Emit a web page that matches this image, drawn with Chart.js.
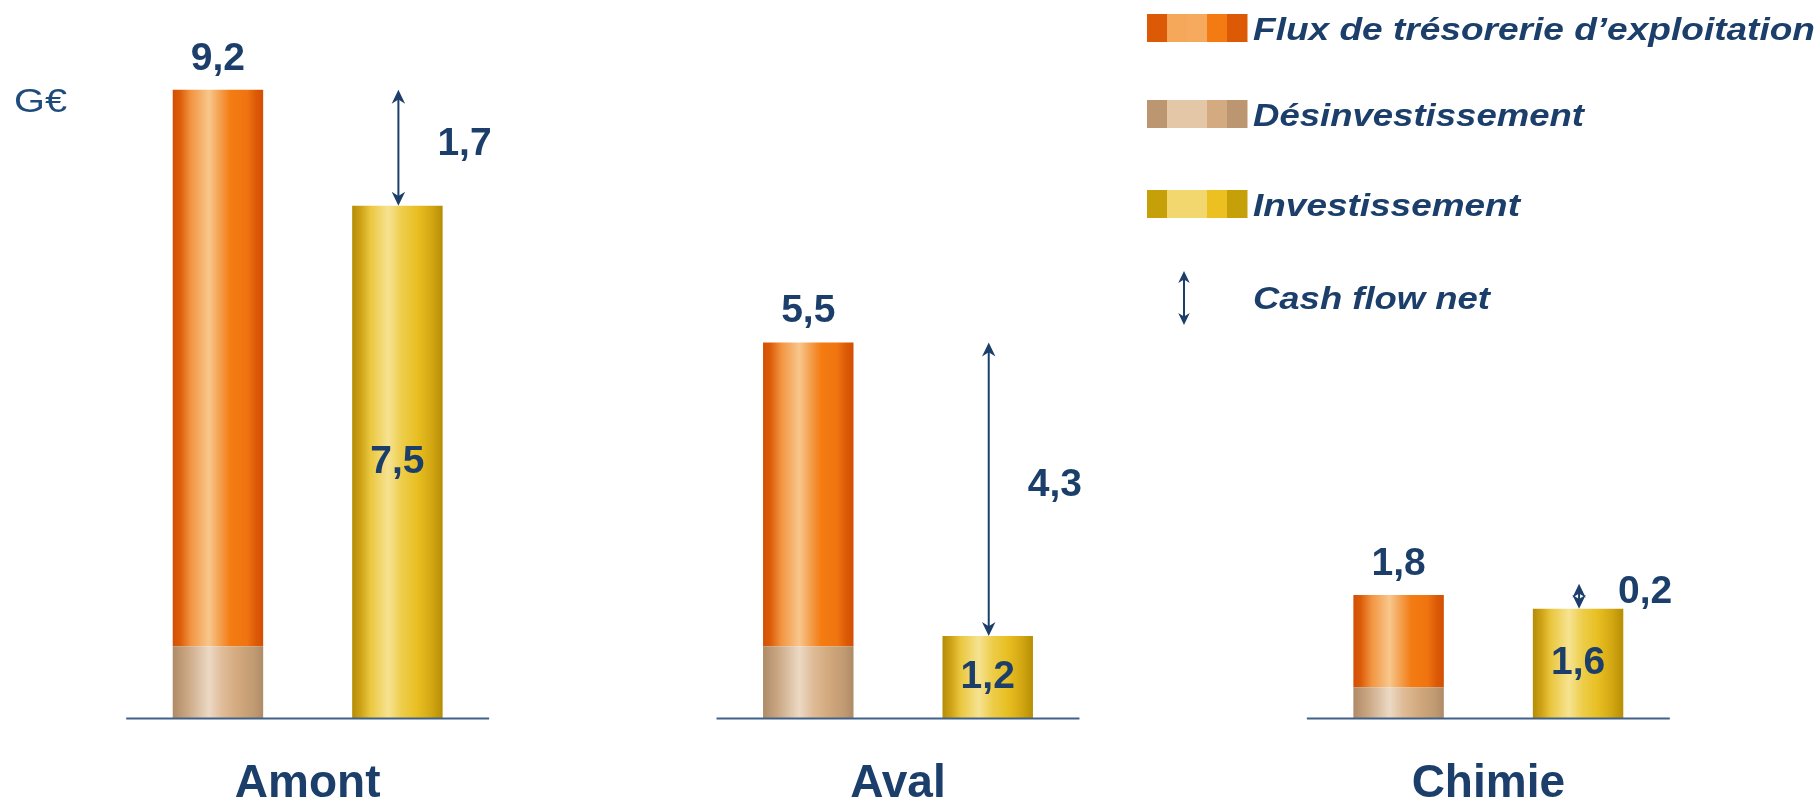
<!DOCTYPE html>
<html>
<head>
<meta charset="utf-8">
<script src="https://cdn.jsdelivr.net/npm/chart.js@4.4.0/dist/chart.umd.min.js"></script>
<style>
  html, body { margin: 0; padding: 0; background: #ffffff; }
  #wrap { width: 1820px; height: 803px; position: relative; }
</style>
</head>
<body>
<div id="wrap"><canvas id="c" width="1820" height="803"></canvas></div>
<script>
// ---- Data ----
const categories = ['Amont', 'Aval', 'Chimie'];
const desinvestissement = [1.05, 1.05, 0.45];
const fluxExploitation = [8.15, 4.45, 1.35];
const investissement = [7.5, 1.2, 1.6];
const cashFlowNet = [1.7, 4.3, 0.2];
const legendLabels = ['Flux de trésorerie d\u2019exploitation', 'Désinvestissement', 'Investissement', 'Cash flow net'];
const unitLabel = 'G€';

// ---- Styling ----
const NAVY = '#1b3f6a';
const CP = 0.608, BP = 0.504;
const FONT = '"Liberation Sans", Arial, sans-serif';

const orangeStops = [[0,'#d24f06'],[0.08,'#dc5c08'],[0.2,'#f29440'],[0.4,'#f8c78c'],[0.52,'#f4a050'],[0.64,'#f47c12'],[0.82,'#f07410'],[0.92,'#dc5a06'],[1,'#d24f04']];
const tanStops = [[0,'#ae8a66'],[0.15,'#c8a480'],[0.4,'#ecd9c4'],[0.55,'#dfbc98'],[0.72,'#d3a97e'],[0.9,'#c09a72'],[1,'#ae8a66']];
const yellowStops = [[0,'#b48c06'],[0.1,'#d0a418'],[0.2,'#eac73e'],[0.4,'#f6e392'],[0.55,'#edcd4a'],[0.72,'#e8bf22'],[0.88,'#d2a612'],[1,'#b68e04']];

function fmt(v) { return v.toFixed(1).replace('.', ','); }

function barGradient(stops, stackIdx) {
  return function (ctx) {
    const chart = ctx.chart;
    const xs = chart.scales.x;
    if (ctx.type !== 'data' || !xs || xs.right === undefined) return stops[3][1];
    const catW = (xs.right - xs.left) / categories.length;
    const center = xs.getPixelForValue(ctx.dataIndex);
    const slot = catW * CP / 2;
    const cx = center + (stackIdx - 0.5) * slot;
    const w = slot * BP;
    const g = chart.ctx.createLinearGradient(cx - w / 2, 0, cx + w / 2, 0);
    stops.forEach(s => g.addColorStop(s[0], s[1]));
    return g;
  };
}

function drawHead(ctx, x, tipY, dir, size) {
  const h = size, w = size * 0.48, notch = size * 0.7;
  ctx.beginPath();
  ctx.moveTo(x, tipY);
  ctx.lineTo(x - w, tipY - dir * h);
  ctx.lineTo(x, tipY - dir * notch);
  ctx.lineTo(x + w, tipY - dir * h);
  ctx.closePath();
  ctx.fill();
}

function drawDoubleArrow(ctx, x, yTop, yBot, size) {
  ctx.save();
  ctx.strokeStyle = NAVY;
  ctx.fillStyle = NAVY;
  ctx.lineWidth = 2;
  ctx.beginPath();
  ctx.moveTo(x, yTop + size * 0.6);
  ctx.lineTo(x, yBot - size * 0.6);
  ctx.stroke();
  drawHead(ctx, x, yTop, -1, size);
  drawHead(ctx, x, yBot, 1, size);
  ctx.restore();
}

function drawFitText(ctx, text, x, y, targetW) {
  const m = ctx.measureText(text).width;
  ctx.save();
  ctx.translate(x, y);
  ctx.scale(targetW / m, 1);
  ctx.fillText(text, 0, 0);
  ctx.restore();
}

const overlayPlugin = {
  id: 'overlay',
  afterDatasetsDraw(chart) {
    const ctx = chart.ctx;
    const xs = chart.scales.x, ys = chart.scales.y;
    const catW = (xs.right - xs.left) / categories.length;
    const slot = catW * CP / 2;
    const base = ys.getPixelForValue(0);
    ctx.save();
    ctx.strokeStyle = '#40628a';
    ctx.lineWidth = 2;
    categories.forEach((c, i) => {
      const cx = xs.getPixelForValue(i);
      ctx.beginPath();
      ctx.moveTo(cx - slot - 2, base + 0.5);
      ctx.lineTo(cx + slot + 2, base + 0.5);
      ctx.stroke();
    });
    ctx.textBaseline = 'middle';
    categories.forEach((c, i) => {
      const cx = xs.getPixelForValue(i);
      const fx = cx - slot / 2, ix = cx + slot / 2;
      const total = desinvestissement[i] + fluxExploitation[i];
      const yTotal = ys.getPixelForValue(total);
      const yInv = ys.getPixelForValue(investissement[i]);
      ctx.fillStyle = NAVY;
      ctx.font = 'bold 39px ' + FONT;
      ctx.textAlign = 'center';
      ctx.fillText(fmt(total), fx, yTotal - 31);
      ctx.fillText(fmt(investissement[i]), ix, (yInv + base) / 2);
      const top = Math.min(yTotal, yInv - 25);
      drawDoubleArrow(ctx, ix + 1, top, yInv, 14);
      ctx.fillStyle = NAVY;
      ctx.font = 'bold 39px ' + FONT;
      ctx.textAlign = 'left';
      ctx.fillText(fmt(cashFlowNet[i]), ix + 40, (top + yInv) / 2 - 4);
      ctx.font = 'bold 46px ' + FONT;
      ctx.textAlign = 'center';
      ctx.fillText(c, cx, 784);
    });
    ctx.restore();
  },
  afterDraw(chart) {
    const ctx = chart.ctx;
    ctx.save();
    ctx.fillStyle = '#1f4b7c';
    ctx.font = '34px ' + FONT;
    ctx.textAlign = 'left';
    ctx.textBaseline = 'alphabetic';
    drawFitText(ctx, unitLabel, 14, 112, 53);
    const swatches = [
      ['#dc5a05', '#f5a75a', '#f5aa5e', '#f47b12', '#dc5a05'],
      ['#bc9670', '#e3c7a6', '#e3c7a6', '#d4ab80', '#bc9670'],
      ['#c6a008', '#f2d66e', '#f2d66e', '#ebc020', '#c6a008']
    ];
    const centers = [28, 114, 204];
    const widths = [562, 331, 267];
    swatches.forEach((cols, k) => {
      const y0 = centers[k] - 14;
      cols.forEach((col, j) => {
        ctx.fillStyle = col;
        ctx.fillRect(1147 + j * 20, y0, 20.5, 28);
      });
      ctx.fillStyle = NAVY;
      ctx.font = 'italic bold 32px ' + FONT;
      drawFitText(ctx, legendLabels[k], 1253, centers[k] + 11.5, widths[k]);
    });
    drawDoubleArrow(ctx, 1184, 271, 325, 12);
    ctx.fillStyle = NAVY;
    ctx.font = 'italic bold 32px ' + FONT;
    drawFitText(ctx, legendLabels[3], 1253, 308.5, 237);
    ctx.restore();
  }
};

new Chart(document.getElementById('c'), {
  type: 'bar',
  data: {
    labels: categories,
    datasets: [
      { label: legendLabels[1], data: desinvestissement, stack: 'a', backgroundColor: barGradient(tanStops, 0), borderWidth: 0 },
      { label: legendLabels[0], data: fluxExploitation, stack: 'a', backgroundColor: barGradient(orangeStops, 0), borderWidth: 0 },
      { label: legendLabels[2], data: investissement, stack: 'b', backgroundColor: barGradient(yellowStops, 1), borderWidth: 0 }
    ]
  },
  options: {
    responsive: false,
    animation: false,
    categoryPercentage: CP,
    barPercentage: BP,
    layout: { padding: { left: 12.5, right: 36.5, top: 1, bottom: 85 } },
    plugins: { legend: { display: false }, tooltip: { enabled: false } },
    scales: {
      x: { display: false },
      y: { display: false, stacked: true, min: 0, max: 10.5 }
    }
  },
  plugins: [overlayPlugin]
});
</script>
</body>
</html>
